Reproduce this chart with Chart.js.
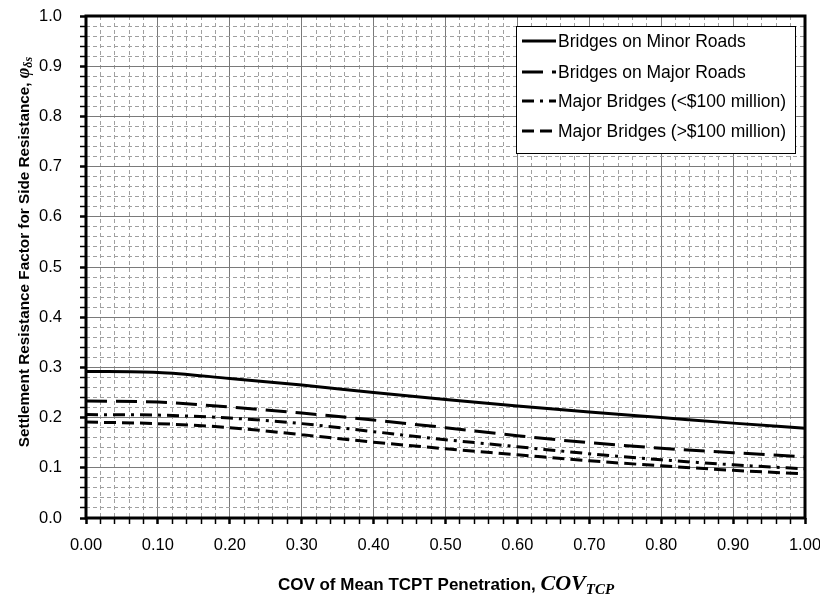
<!DOCTYPE html>
<html>
<head>
<meta charset="utf-8">
<script src="https://cdn.jsdelivr.net/npm/chart.js@4.4.1/dist/chart.umd.min.js"></script>
<style>
  html, body { margin: 0; padding: 0; background: #fff; }
  #wrap { width: 820px; height: 598px; }
</style>
</head>
<body>
<div id="wrap"><canvas id="chart" width="820" height="598"></canvas></div>
<script>
// COV values along x
const covValues = [0.0, 0.1, 0.2, 0.3, 0.4, 0.5, 0.6, 0.7, 0.8, 0.9, 1.0];

// Resistance factor curves
const minorRoads      = [0.292, 0.290, 0.278, 0.265, 0.250, 0.236, 0.223, 0.211, 0.200, 0.189, 0.179];
const majorRoads      = [0.233, 0.231, 0.221, 0.209, 0.195, 0.180, 0.164, 0.150, 0.139, 0.130, 0.122];
const majorBridgesLow = [0.206, 0.205, 0.199, 0.188, 0.172, 0.156, 0.142, 0.128, 0.116, 0.106, 0.098];
const majorBridgesHigh= [0.191, 0.188, 0.180, 0.166, 0.151, 0.138, 0.126, 0.114, 0.104, 0.095, 0.088];

const seriesLabels = [
    'Bridges on Minor Roads',
    'Bridges on Major Roads',
    'Major Bridges (<$100 million)',
    'Major Bridges (>$100 million)'
];
const seriesDash = [[], [21, 9], [12, 6, 3, 6], [12, 6]];

const FONT = "'Liberation Sans', Arial, sans-serif";

function isMajor(v) {
    return Math.round(v * 100) % 10 === 0;
}

function toPoints(arr) {
    return covValues.map((x, i) => ({ x: x, y: arr[i] }));
}

// Frame, legend box and axis titles
const decorPlugin = {
    id: 'decor',
    afterDatasetsDraw(chart) {
        const ctx = chart.ctx;
        const a = chart.chartArea;

        // legend
        const lx = 516, ly = 26, lw = 279, lh = 127;
        const rows = [41, 72, 101, 131];
        ctx.save();
        ctx.fillStyle = '#fff';
        ctx.fillRect(lx, ly, lw, lh);
        ctx.strokeStyle = '#000';
        ctx.lineWidth = 1;
        ctx.strokeRect(lx + 0.5, ly + 0.5, lw, lh);
        seriesLabels.forEach((label, i) => {
            ctx.beginPath();
            ctx.setLineDash(seriesDash[i]);
            ctx.lineWidth = 3;
            ctx.moveTo(522, rows[i]);
            ctx.lineTo(556, rows[i]);
            ctx.stroke();
            ctx.setLineDash([]);
            ctx.fillStyle = '#000';
            ctx.font = '17.5px ' + FONT;
            ctx.textAlign = 'left';
            ctx.textBaseline = 'middle';
            ctx.fillText(label, 558, rows[i] + 1);
        });
        ctx.restore();

        // plot frame
        ctx.save();
        ctx.strokeStyle = '#000';
        ctx.lineWidth = 3;
        ctx.strokeRect(a.left, a.top, a.right - a.left, a.bottom - a.top);
        ctx.restore();

        // x axis title
        ctx.save();
        ctx.fillStyle = '#000';
        ctx.textBaseline = 'alphabetic';
        ctx.textAlign = 'left';
        const xMain = 'COV of Mean TCPT Penetration, ';
        const fMain = 'bold 17px ' + FONT;
        const fCov = 'italic bold 22px "Liberation Serif", "Times New Roman", serif';
        const fSub = 'italic bold 15px "Liberation Serif", "Times New Roman", serif';
        ctx.font = fMain; const w1 = ctx.measureText(xMain).width;
        ctx.font = fCov;  const w2 = ctx.measureText('COV').width;
        ctx.font = fSub;  const w3 = ctx.measureText('TCP').width;
        const x0 = 446 - (w1 + w2 + w3) / 2;
        const by = 590;
        ctx.font = fMain; ctx.fillText(xMain, x0, by);
        ctx.font = fCov;  ctx.fillText('COV', x0 + w1, by);
        ctx.font = fSub;  ctx.fillText('TCP', x0 + w1 + w2, by + 4);
        ctx.restore();

        // y axis title
        ctx.save();
        ctx.translate(29, 252);
        ctx.rotate(-Math.PI / 2);
        ctx.fillStyle = '#000';
        ctx.textBaseline = 'alphabetic';
        ctx.textAlign = 'left';
        const yMain = 'Settlement Resistance Factor for Side Resistance, ';
        const fY = 'bold 15.3px ' + FONT;
        const fPhi = 'italic bold 18px "Liberation Serif", "Times New Roman", serif';
        const fPhiSub = 'italic bold 12px "Liberation Serif", "Times New Roman", serif';
        ctx.font = fY;     const v1 = ctx.measureText(yMain).width;
        ctx.font = fPhi;   const v2 = ctx.measureText('φ').width;
        ctx.font = fPhiSub; const v3 = ctx.measureText('δs').width;
        const y0 = -(v1 + v2 + v3) / 2;
        ctx.font = fY;     ctx.fillText(yMain, y0, 0);
        ctx.font = fPhi;   ctx.fillText('φ', y0 + v1, 0);
        ctx.font = fPhiSub; ctx.fillText('δs', y0 + v1 + v2, 3);
        ctx.restore();
    }
};

const gridOpts = {
    color: ctx => (ctx.tick && isMajor(ctx.tick.value)) ? '#7a7a7a' : '#a0a0a0',
    lineWidth: 1,
    drawTicks: true,
    tickLength: 6,
    tickColor: '#000',
    tickWidth: ctx => (ctx.tick && isMajor(ctx.tick.value)) ? 2.5 : 1.5,
};
const borderOpts = {
    display: false,
    dash: ctx => (ctx.tick && !isMajor(ctx.tick.value)) ? [4, 3] : [],
};

new Chart(document.getElementById('chart'), {
    type: 'line',
    data: {
        datasets: [minorRoads, majorRoads, majorBridgesLow, majorBridgesHigh].map((arr, i) => ({
            label: seriesLabels[i],
            data: toPoints(arr),
            borderColor: '#000',
            borderWidth: 3,
            borderDash: seriesDash[i],
            pointRadius: 0,
            fill: false,
            cubicInterpolationMode: 'monotone',
        }))
    },
    options: {
        responsive: false,
        animation: false,
        events: [],
        layout: { padding: { left: 0, right: 15, top: 16, bottom: 0 } },
        plugins: {
            legend: { display: false },
            tooltip: { enabled: false },
        },
        scales: {
            x: {
                type: 'linear',
                min: 0,
                max: 1,
                afterFit: s => { s.height = 80; s.paddingLeft = 0; s.paddingRight = 0; },
                ticks: {
                    stepSize: 0.02,
                    autoSkip: false,
                    maxRotation: 0,
                    padding: 12,
                    color: '#000',
                    font: { family: FONT, size: 16.5 },
                    callback: v => isMajor(v) ? v.toFixed(2) : '',
                },
                grid: gridOpts,
                border: borderOpts,
            },
            y: {
                type: 'linear',
                min: 0,
                max: 1,
                afterFit: s => { s.width = 86; s.paddingTop = 0; s.paddingBottom = 0; },
                ticks: {
                    stepSize: 0.02,
                    autoSkip: false,
                    padding: 18,
                    color: '#000',
                    font: { family: FONT, size: 16.5 },
                    callback: v => isMajor(v) ? v.toFixed(1) : '',
                },
                grid: gridOpts,
                border: borderOpts,
            }
        }
    },
    plugins: [decorPlugin]
});
</script>
</body>
</html>
